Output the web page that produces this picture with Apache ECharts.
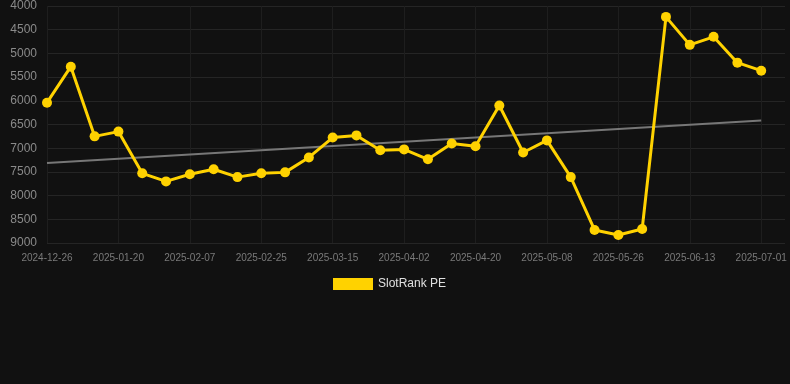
<!DOCTYPE html>
<html>
<head>
<meta charset="utf-8">
<script src="https://cdn.jsdelivr.net/npm/echarts@6/dist/echarts.min.js"></script>
<style>
html,body{margin:0;padding:0;background:#111111;}
#c{width:790px;height:384px;}
</style>
</head>
<body>
<div id="c"></div>
<script>
const categories = ['2024-12-26','2025-01-08','2025-01-14','2025-01-20','2025-01-26','2025-02-01','2025-02-07','2025-02-13','2025-02-19','2025-02-25','2025-03-03','2025-03-09','2025-03-15','2025-03-21','2025-03-27','2025-04-02','2025-04-08','2025-04-14','2025-04-20','2025-04-26','2025-05-02','2025-05-08','2025-05-14','2025-05-20','2025-05-26','2025-06-01','2025-06-07','2025-06-13','2025-06-19','2025-06-25','2025-07-01'];
const peValues = [6040,5280,6750,6650,7530,7700,7550,7445,7610,7530,7510,7195,6775,6730,7045,7025,7235,6900,6960,6100,7090,6835,7610,8725,8830,8705,4230,4820,4650,5195,5365];
const trendEnds = [7310, 6415];
const yTicks = {min: 4000, max: 9000, interval: 500};

const cats = categories.concat(['']);
const trendData = cats.map((c, i) => i === 0 ? trendEnds[0] : (i === categories.length - 1 ? trendEnds[1] : null));

const chart = echarts.init(document.getElementById('c'), null, {renderer: 'canvas'});
chart.setOption({
  backgroundColor: '#111111',
  animation: false,
  textStyle: {fontFamily: 'Liberation Sans, Arial, sans-serif'},
  grid: {left: 47, right: 5, top: 5, bottom: 141, containLabel: false},
  legend: {
    data: ['SlotRank PE'],
    top: 273, left: 328,
    itemWidth: 40, itemHeight: 12,
    textStyle: {color: '#e0e0e0', fontSize: 12},
    icon: 'rect'
  },
  xAxis: {
    type: 'category',
    data: cats,
    boundaryGap: false,
    axisLine: {show: false},
    axisTick: {show: false},
    axisLabel: {color: '#7a7a7a', fontSize: 10, interval: 2, margin: 10},
    splitLine: {show: true, interval: 2, lineStyle: {color: '#1e1e1e', width: 1}}
  },
  yAxis: {
    type: 'value',
    inverse: true,
    min: yTicks.min, max: yTicks.max, interval: yTicks.interval,
    axisLine: {show: false},
    axisTick: {show: false},
    axisLabel: {color: '#8a8a8a', fontSize: 12, margin: 10, formatter: v => String(v)},
    splitLine: {lineStyle: {color: '#252525', width: 1}}
  },
  series: [
    {
      name: 'SlotRank PE',
      type: 'line',
      data: peValues,
      symbol: 'circle',
      symbolSize: 10,
      lineStyle: {color: '#ffd200', width: 3},
      itemStyle: {color: '#ffd200'},
      z: 3
    },
    {
      name: 'trend',
      type: 'line',
      data: trendData,
      connectNulls: true,
      symbol: 'none',
      lineStyle: {color: '#777', width: 2},
      z: 2
    }
  ]
});
</script>
</body>
</html>
